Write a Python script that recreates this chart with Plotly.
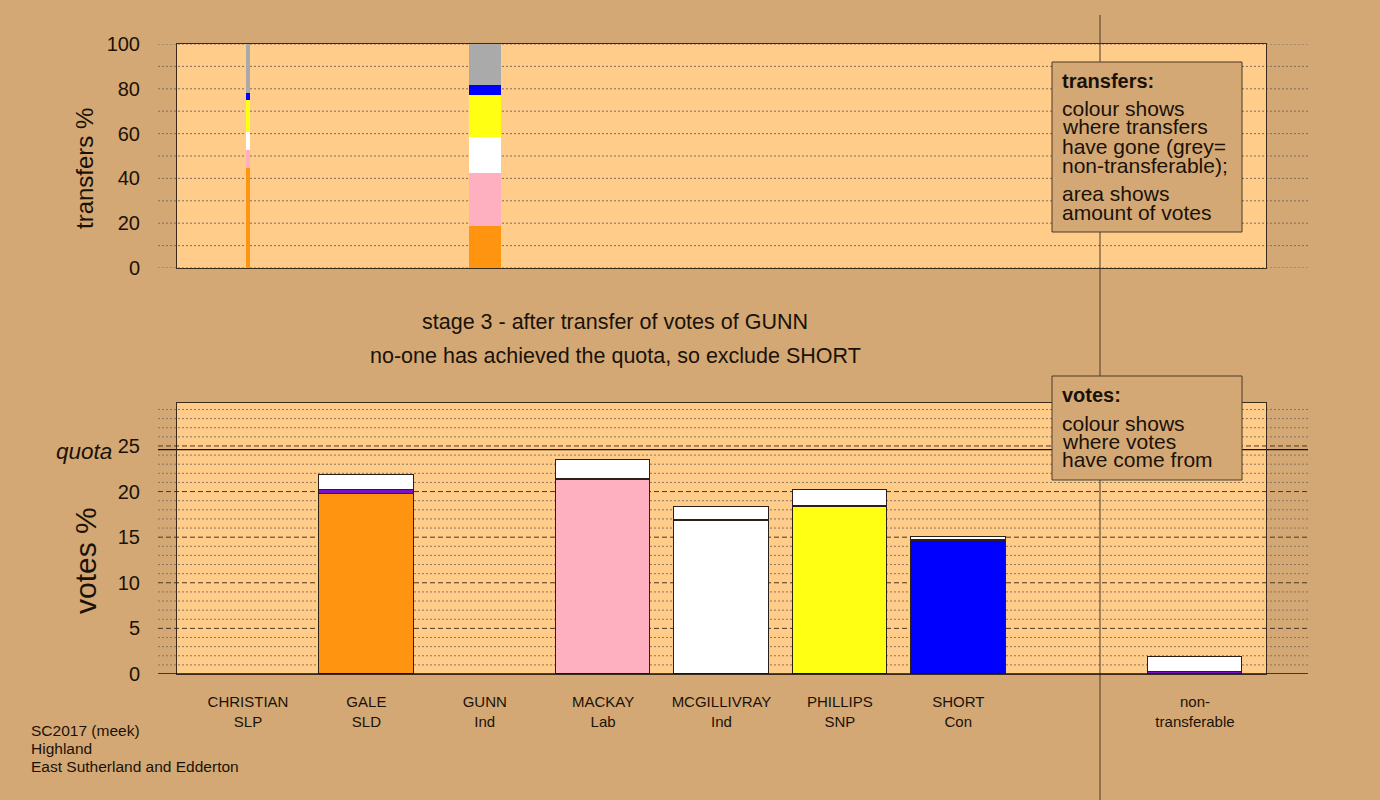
import plotly.graph_objects as go

W, H = 1380, 800

# x slots: candidates, a spacer, then the non-transferable pile
candidates = ["CHRISTIAN", "GALE", "GUNN", "MACKAY", "MCGILLIVRAY", "PHILLIPS", "SHORT", "", "non-"]
parties = ["SLP", "SLD", "Ind", "Lab", "Ind", "SNP", "Con", "", "transferable"]

# where transferred votes went, bottom to top of each transfer column
destinations = ["GALE", "MACKAY", "MCGILLIVRAY", "PHILLIPS", "SHORT", "non-transferable"]
dest_colours = ["#ff9410", "#ffb0c0", "#ffffff", "#ffff14", "#0000ff", "#aaaaaa"]

# excluded candidates whose votes were transferred (% of valid vote)
transfer_sources = ["CHRISTIAN", "GUNN"]
transfer_slots = [0, 2]
transfer_totals = [1.1, 8.9]
christian_split = [44.8, 7.9, 8.1, 14.2, 3.3, 21.7]
gunn_split = [18.75, 23.55, 16.3, 18.6, 4.5, 18.3]

# current vote (%) of each slot, split by where the votes came from
first_prefs = [0, 19.7, 0, 21.25, 16.78, 18.3, 14.6, 0, 0]
from_christian = [0, 0.49, 0, 0.09, 0.09, 0.16, 0.04, 0, 0.24]
from_gunn = [0, 1.67, 0, 2.10, 1.45, 1.66, 0.40, 0, 1.63]
own_colours = ["#7a10c8", "#ff9410", "#ffffff", "#ffb0c0", "#ffffff",
               "#ffff14", "#0000ff", "#ffffff", "#aaaaaa"]
christian_colour = "#7a10c8"
gunn_colour = "#ffffff"
quota = 24.6

PAPER = "#d4a874"
PLOT_BG = "#ffcc8a"
INK = "#1a1208"
FONT = "Liberation Sans, Arial, sans-serif"
WIDTH_PER_VOTE = 0.0305  # column width (x units) per % of votes transferred


def px(x):
    return x / W


def py(y):
    return 1 - y / H


fig = go.Figure()

# ---- transfers panel: column width proportional to votes transferred
splits = [christian_split, gunn_split]
for i, dest in enumerate(destinations):
    fig.add_trace(go.Bar(
        x=transfer_slots,
        y=[s[i] for s in splits],
        width=[t * WIDTH_PER_VOTE for t in transfer_totals],
        marker=dict(color=dest_colours[i], line=dict(width=0)),
        name=dest, xaxis="x", yaxis="y", showlegend=False, hoverinfo="skip",
    ))


# ---- votes panel: stacked by origin of the votes
def stack_trace(values, colours, name):
    idx = [k for k, v in enumerate(values) if v > 0]
    cols = colours if isinstance(colours, str) else [colours[k] for k in idx]
    return go.Bar(
        x=idx, y=[values[k] for k in idx], width=0.8,
        marker=dict(color=cols, line=dict(color="#2a2018", width=1)),
        name=name, xaxis="x2", yaxis="y2", showlegend=False, hoverinfo="skip",
    )


fig.add_trace(stack_trace(first_prefs, own_colours, "first preferences"))
fig.add_trace(stack_trace(from_christian, christian_colour, "from CHRISTIAN"))
fig.add_trace(stack_trace(from_gunn, gunn_colour, "from GUNN"))

X0, X1 = 177, 1266
TOP_Y0, TOP_Y1 = 44, 268
BOT_Y0, BOT_Y1 = 403, 674
GRID_L, GRID_R = 158, 1308

shapes = []
# panel backgrounds
for y0, y1 in [(TOP_Y0, TOP_Y1), (BOT_Y0, BOT_Y1)]:
    shapes.append(dict(type="rect", xref="paper", yref="paper", layer="below",
                       x0=px(X0), x1=px(X1), y0=py(y1), y1=py(y0),
                       fillcolor=PLOT_BG, line=dict(width=0)))
# transfers grid
for v in range(0, 101, 10):
    shapes.append(dict(type="line", xref="paper", yref="y", layer="below",
                       x0=px(GRID_L), x1=px(GRID_R), y0=v, y1=v,
                       line=dict(color="#7d6e60", width=1, dash="2px,2px")))
# votes grid: dotted every 1, dashed every 5
for v in range(1, 30):
    if v % 5 == 0:
        ln = dict(color="#4a3522", width=1, dash="5px,3px")
    else:
        ln = dict(color="#8a7562", width=1, dash="2px,2px")
    shapes.append(dict(type="line", xref="paper", yref="y2", layer="below",
                       x0=px(GRID_L), x1=px(GRID_R), y0=v, y1=v, line=ln))
# quota line
shapes.append(dict(type="line", xref="paper", yref="y2", layer="below",
                   x0=px(GRID_L), x1=px(GRID_R), y0=quota, y1=quota,
                   line=dict(color=INK, width=1.2)))
# divider between candidates and non-transferable pile
shapes.append(dict(type="line", xref="paper", yref="paper", layer="below",
                   x0=px(1100), x1=px(1100), y0=py(800), y1=py(15),
                   line=dict(color="#4a3a2a", width=1)))
# zero line of votes panel
shapes.append(dict(type="line", xref="paper", yref="y2", layer="above",
                   x0=px(GRID_L), x1=px(GRID_R), y0=0, y1=0,
                   line=dict(color=INK, width=1.5)))
# key boxes
for y0, y1 in [(62, 232), (376, 480)]:
    shapes.append(dict(type="rect", xref="paper", yref="paper", layer="above",
                       x0=px(1052), x1=px(1242), y0=py(y1), y1=py(y0),
                       fillcolor=PAPER, line=dict(color="#4a3a2a", width=1)))

annotations = []


def text(x, y, s, size, xanchor="left", bold=False, italic=False, angle=0):
    if bold:
        s = "<b>" + s + "</b>"
    if italic:
        s = "<i>" + s + "</i>"
    annotations.append(dict(
        xref="paper", yref="paper", x=px(x), y=py(y), text=s, showarrow=False,
        xanchor=xanchor, yanchor="middle", textangle=angle,
        font=dict(family=FONT, size=size, color=INK),
    ))


# transfers key
text(1060, 81, "transfers:", 20, bold=True)
for y, s in [(108, "colour shows"), (127, "where transfers"), (146, "have gone (grey="),
             (165, "non-transferable);"), (194, "area shows"), (212, "amount of votes")]:
    text(1060, y, s, 21)
# votes key
text(1060, 395, "votes:", 20, bold=True)
for y, s in [(423, "colour shows"), (441, "where votes"), (460, "have come from")]:
    text(1060, y, s, 21)

# stage description
text(615, 322, "stage 3 - after transfer of votes of GUNN", 21.5, xanchor="center")
text(615, 356, "no-one has achieved the quota, so exclude SHORT", 21.5, xanchor="center")

# axis titles
text(85, 169, "transfers %", 24, xanchor="center", angle=-90)
text(85, 561, "votes %", 30, xanchor="center", angle=-90)
text(114, 452, "quota", 22.5, xanchor="right", italic=True)

# footer
for y, s in [(730, "SC2017 (meek)"), (748, "Highland"), (766, "East Sutherland and Edderton")]:
    text(29, y, s, 15.5)

axis_line = dict(showline=True, mirror=True, linecolor="#3a2a1a", linewidth=1,
                 zeroline=False, showgrid=False, ticks="", fixedrange=True,
                 automargin=False)

fig.update_layout(
    template="none",
    width=W, height=H, margin=dict(l=0, r=0, t=0, b=0, pad=0), autosize=False,
    paper_bgcolor=PAPER, plot_bgcolor="rgba(0,0,0,0)",
    barmode="stack", bargap=0, showlegend=False,
    font=dict(family=FONT, color=INK),
    xaxis=dict(domain=[px(X0), px(X1)], range=[-0.6, 8.6], anchor="y",
               showticklabels=False, **axis_line),
    yaxis=dict(domain=[py(TOP_Y1), py(TOP_Y0)], range=[0, 100], anchor="x",
               tickvals=list(range(0, 101, 20)), tickfont=dict(size=20),
               ticklabelstandoff=32, **axis_line),
    xaxis2=dict(domain=[px(X0), px(X1)], range=[-0.6, 8.6], anchor="y2",
                tickvals=list(range(len(candidates))),
                ticktext=[f"{c}<br>{p}" for c, p in zip(candidates, parties)],
                tickfont=dict(size=15), ticklabelstandoff=14, **axis_line),
    yaxis2=dict(domain=[py(BOT_Y1), py(BOT_Y0)], range=[0, 29.71], anchor="x2",
                tickvals=list(range(0, 26, 5)), tickfont=dict(size=20),
                ticklabelstandoff=32, **axis_line),
    shapes=shapes, annotations=annotations,
)

fig.write_html("out.html")
